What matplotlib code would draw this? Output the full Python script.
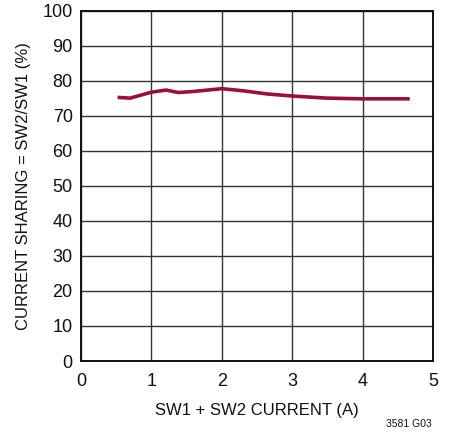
import matplotlib
matplotlib.use("Agg")
import matplotlib.pyplot as plt
from matplotlib import font_manager

current = [0.52, 0.70, 1.00, 1.21, 1.38, 1.60, 2.00, 2.30, 2.64, 3.00, 3.49, 4.00, 4.67]
sharing = [75.2, 75.0, 76.7, 77.3, 76.6, 76.9, 77.7, 77.1, 76.2, 75.6, 75.0, 74.8, 74.8]
xticks = [0, 1, 2, 3, 4, 5]
yticks = [0, 10, 20, 30, 40, 50, 60, 70, 80, 90, 100]

names = {f.name for f in font_manager.fontManager.ttflist}
fam = "Liberation Sans Narrow" if "Liberation Sans Narrow" in names else "Liberation Sans"
plt.rcParams['font.family'] = [fam, 'DejaVu Sans']

fig = plt.figure(figsize=(4.5, 4.33), dpi=100)
ax = fig.add_axes([81/450, 1 - 361/433, (433-81)/450, (361-10.5)/433])
ax.plot(current, sharing, color='#9a0f3e', lw=2.6, solid_capstyle='butt')
ax.set_xlim(0, 5)
ax.set_ylim(0, 100)
ax.set_xticks(xticks)
ax.set_yticks(yticks)
ax.grid(True, color='#333333', lw=1.0)
ax.set_axisbelow(True)
for s in ax.spines.values():
    s.set_linewidth(1.4)
    s.set_color('#111111')
ax.tick_params(axis='x', length=0, labelsize=13, pad=9, colors='#111111')
ax.tick_params(axis='y', length=0, labelsize=13, pad=6, colors='#111111')
ax.set_xlabel('SW1 + SW2 CURRENT (A)', fontsize=12, labelpad=9, color='#111111')
ax.set_ylabel('CURRENT SHARING = SW2/SW1 (%)', fontsize=12, labelpad=8, color='#111111')
fig.text(432/450, 1 - 424/433, '3581 G03', fontsize=7.5, ha='right', va='center', color='#111111')
fig.savefig('out.png', dpi=100)
